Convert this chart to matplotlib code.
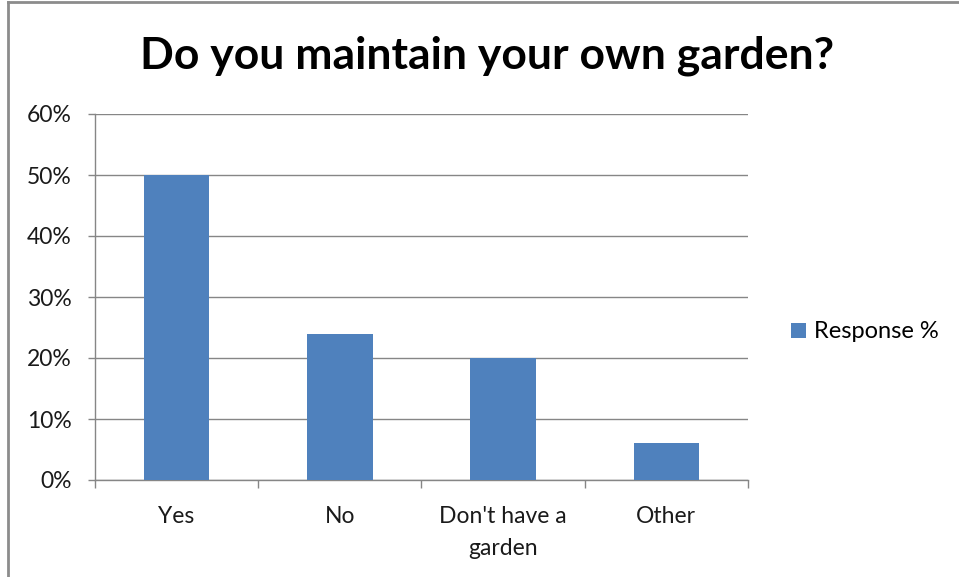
import matplotlib

matplotlib.use('Agg')
import matplotlib.pyplot as plt
import matplotlib.lines as mlines
from matplotlib.ticker import FuncFormatter, FixedLocator

plt.rcParams['font.family'] = ['Lato', 'DejaVu Sans']

categories = ["Yes", "No", "Don't have a\ngarden", "Other"]
response_pct = [0.50, 0.24, 0.20, 0.06]
series_name = "Response %"
title = "Do you maintain your own garden?"

BAR_COLOR = "#4F81BD"
GRID_COLOR = "#868686"

fig = plt.figure(figsize=(9.59, 5.77), dpi=100)
ax = fig.add_axes([95 / 959, 1 - 480 / 577, (748 - 95) / 959, (480 - 114) / 577])

x = range(len(categories))
ax.bar(x, response_pct, width=0.4, color=BAR_COLOR, label=series_name, zorder=3)

ax.set_xlim(-0.5, len(categories) - 0.5)
ax.set_ylim(0, 0.6)
ax.set_yticks([i / 10 for i in range(7)])
ax.yaxis.set_major_formatter(FuncFormatter(lambda v, _: f"{v * 100:.0f}%"))
ax.grid(axis="y", color=GRID_COLOR, linewidth=1.0, zorder=0)

# category labels sit between the boundary tick marks
ax.set_xticks(list(x))
ax.set_xticklabels(categories, linespacing=1.6)
ax.xaxis.set_minor_locator(FixedLocator([i - 0.5 for i in range(len(categories) + 1)]))
ax.tick_params(axis="x", which="major", length=0, pad=19, labelsize=16.5, colors="#1a1a1a")
ax.tick_params(axis="x", which="minor", length=6, width=1, color=GRID_COLOR, direction="out")
ax.tick_params(axis="y", length=5, width=1, color=GRID_COLOR, pad=12, labelsize=16.5, labelcolor="#1a1a1a")

for side in ("top", "right"):
    ax.spines[side].set_visible(False)
for side in ("left", "bottom"):
    ax.spines[side].set_color(GRID_COLOR)
    ax.spines[side].set_linewidth(1.0)

fig.text(487 / 959, 1 - 56 / 577, title, ha="center", va="center",
         fontsize=32, fontweight="bold", color="#000000")

fig.legend(loc="center left", bbox_to_anchor=(791 / 959, 1 - 332 / 577), frameon=False,
           fontsize=17, handlelength=0.62, handleheight=0.62, handletextpad=0.35,
           borderaxespad=0, borderpad=0)

# outer chart frame (left and top edges)
fig.add_artist(mlines.Line2D([7.5 / 959, 7.5 / 959], [0, 1 - 2 / 577], transform=fig.transFigure,
                             color="#8c8c8c", linewidth=2))
fig.add_artist(mlines.Line2D([7.5 / 959, 1], [1 - 2 / 577, 1 - 2 / 577], transform=fig.transFigure,
                             color="#8c8c8c", linewidth=2))

fig.savefig("out.png", dpi=100)
plt.close(fig)
